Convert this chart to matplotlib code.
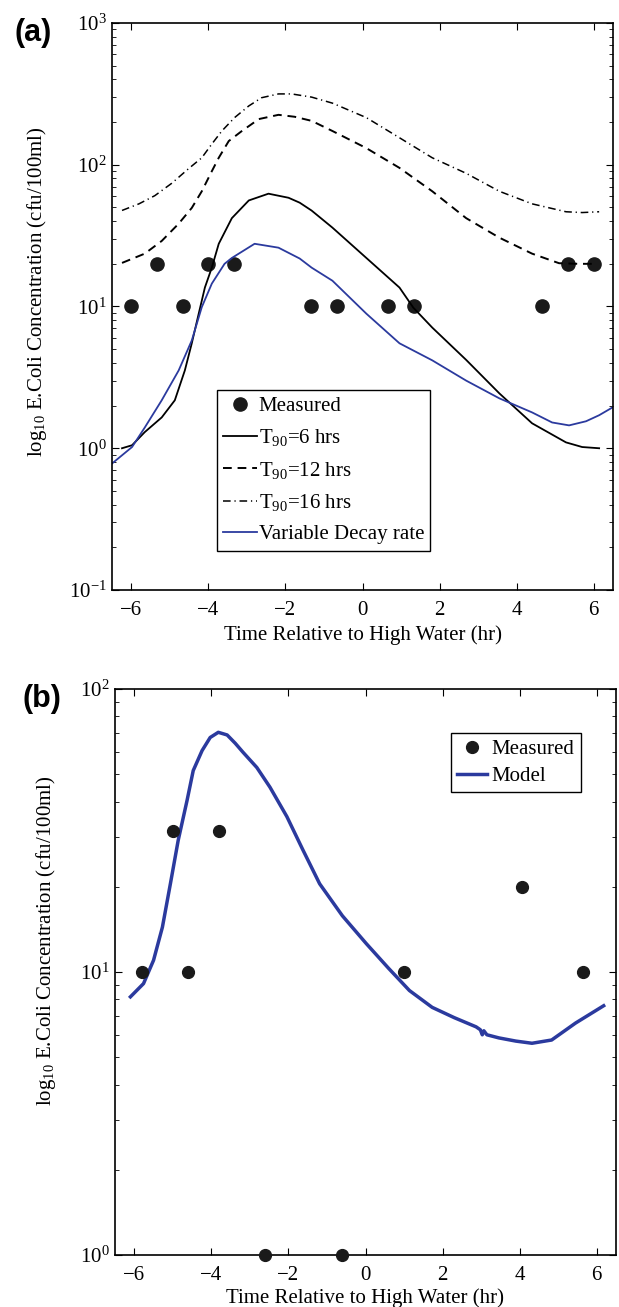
import numpy as np
import matplotlib
matplotlib.use("Agg")
from matplotlib import pyplot as plt

plt.rcParams['font.family'] = ['Liberation Serif', 'DejaVu Serif']
plt.rcParams['mathtext.fontset'] = 'custom'
plt.rcParams['mathtext.rm'] = 'Liberation Serif'
plt.rcParams['mathtext.it'] = 'Liberation Serif:italic'
plt.rcParams['axes.unicode_minus'] = True

# panel (a) data
meas_a_x = [-6.0, -5.33, -4.67, -4.0, -3.33, -1.33, -0.67, 0.67, 1.33, 4.67, 5.33, 6.0]
meas_a_y = [10, 20, 10, 20, 20, 10, 10, 10, 10, 10, 20, 20]

t6_x = [-6.24, -5.98, -5.65, -5.21, -4.87, -4.61, -4.43, -4.25, -4.09, -3.91, -3.73, -3.39,
        -2.95, -2.44, -1.92, -1.63, -1.32, -0.78, 0.1, 0.96, 1.32, 1.81, 2.69, 3.55,
        4.4, 5.28, 5.7, 6.14]
t6_y = [1.0, 1.05, 1.3, 1.65, 2.18, 3.54, 5.5, 8.9, 13.6, 18.8, 27.7, 42,
        56, 62.5, 58.5, 54, 47.5, 36, 22, 13.6, 9.8, 7.1, 4.2, 2.44,
        1.5, 1.1, 1.02, 1.0]

t12_x = [-6.24, -5.65, -5.21, -4.77, -4.43, -4.17, -3.91, -3.73, -3.47, -3.13, -2.69, -2.18,
         -1.76, -1.32, -0.78, 0.1, 0.96, 1.81, 2.69, 3.55, 4.4, 5.1, 5.6, 6.0]
t12_y = [20.3, 23.6, 29, 38.4, 49.6, 65, 90, 112, 147, 173, 210, 225,
         218, 204, 173, 131, 95, 65, 42, 30.6, 23.6, 20.2, 20, 20]

t16_x = [-6.24, -5.8, -5.39, -4.95, -4.51, -4.17, -3.91, -3.65, -3.32, -2.95, -2.62, -2.18,
         -1.84, -1.32, -0.78, 0.1, 0.96, 1.81, 2.69, 3.55, 4.4, 5.28, 5.7, 6.14]
t16_y = [47.6, 53, 60.5, 74, 94, 112, 140, 173, 215, 260, 297, 316,
         316, 300, 272, 215, 155, 112, 87, 65, 53, 46.6, 46, 46.6]

var_x = [-6.5, -5.98, -5.65, -5.21, -4.77, -4.43, -4.17, -3.91, -3.58, -3.39, -2.8, -2.18,
         -1.63, -1.32, -0.78, 0.1, 0.96, 1.81, 2.69, 3.55, 4.4, 4.92, 5.36, 5.8, 6.14, 6.5]
var_y = [0.78, 1.02, 1.4, 2.18, 3.54, 5.76, 9.9, 14.5, 20, 22, 27.7, 26,
         21.8, 18.8, 15.2, 8.9, 5.5, 4.17, 3.0, 2.25, 1.79, 1.52, 1.45, 1.55, 1.71, 1.95]

# panel (b) data
meas_b_x = [-5.8, -5.0, -4.6, -3.8, -2.6, -0.6, 1.0, 4.05, 5.65]
meas_b_y = [10, 31.6, 10, 31.6, 1, 1, 10, 20, 10]

model_x = [-6.1, -5.76, -5.5, -5.27, -5.06, -4.86, -4.63, -4.47, -4.24, -4.03, -3.82, -3.59,
           -3.38, -3.18, -2.82, -2.48, -2.04, -1.63, -1.19, -0.6, 0.02, 0.6, 1.14, 1.73,
           2.3, 2.87, 2.98, 3.03, 3.07, 3.15, 3.46, 3.9, 4.32, 4.83, 5.45, 6.18]
model_y = [8.17, 9.1, 11.0, 14.4, 20.6, 29.2, 40.4, 51.5, 60.6, 67.4, 70.3, 68.8,
           64.3, 59.8, 52.8, 45, 35.4, 27.1, 20.5, 15.8, 12.6, 10.3, 8.6, 7.5,
           6.9, 6.4, 6.25, 6.0, 6.2, 6.0, 5.85, 5.7, 5.6, 5.75, 6.6, 7.6]

blue = '#2b3a9e'
fs = 15
ylab = 'log$_{10}$ E.Coli Concentration (cfu/100ml)'

fig = plt.figure(figsize=(6.19, 13.07), dpi=100)
axa = fig.add_axes([112/619, 1 - 590/1307, 501/619, 567/1307])
axb = fig.add_axes([115/619, 1 - 1255/1307, 501/619, 566/1307])

def style(ax, ylx, yly, xly):
    ax.set_yscale('log')
    ax.set_xlim(-6.5, 6.5)
    ax.set_xticks([-6, -4, -2, 0, 2, 4, 6])
    ax.tick_params(which='both', direction='in', top=True, right=True, labelsize=fs)
    ax.tick_params(which='major', length=5, width=0.8)
    ax.tick_params(axis='x', which='major', pad=8)
    ax.tick_params(axis='y', which='major', pad=4)
    ax.tick_params(which='minor', length=3, width=0.6)
    ax.minorticks_on()
    ax.xaxis.set_minor_locator(matplotlib.ticker.NullLocator())
    for s in ax.spines.values():
        s.set_linewidth(1.2)
    ax.set_xlabel('Time Relative to High Water (hr)', fontsize=fs, va='center')
    ax.set_ylabel(ylab, fontsize=fs, va='center')
    ax.yaxis.set_label_coords(ylx, yly)
    ax.xaxis.set_label_coords(0.5, xly)

# (a)
axa.plot(meas_a_x, meas_a_y, 'o', color='#1a1a1a', ms=9.5, label='Measured')
axa.plot(t6_x, t6_y, '-', color='k', lw=1.3, label='T$_{90}$=6 hrs')
axa.plot(t12_x, t12_y, '--', color='k', lw=1.4, dashes=(4.5, 3.0), label='T$_{90}$=12 hrs')
axa.plot(t16_x, t16_y, '-.', color='k', lw=1.1, dashes=(5.0, 2.5, 0.8, 2.5), label='T$_{90}$=16 hrs')
axa.plot(var_x, var_y, '-', color=blue, lw=1.3, label='Variable Decay rate')
style(axa, -0.1497, 0.526, -0.0794)
axa.set_ylim(0.1, 1000)
lg = axa.legend(loc='upper left', bbox_to_anchor=(0.2096, 0.3527), borderaxespad=0,
                fontsize=fs, fancybox=False, edgecolor='k', framealpha=1,
                handlelength=1.6, handletextpad=0.1, labelspacing=0.55, borderpad=0.3)
lg.get_frame().set_linewidth(1.0)

# (b)
axb.plot(meas_b_x, meas_b_y, 'o', color='#1a1a1a', ms=8.5, clip_on=False, zorder=3, label='Measured')
axb.plot(model_x, model_y, '-', color=blue, lw=2.5, label='Model')
style(axb, -0.1377, 0.555, -0.076)
axb.set_ylim(1, 100)
lg = axb.legend(loc='upper left', bbox_to_anchor=(0.6707, 0.922), borderaxespad=0,
                fontsize=fs, fancybox=False, edgecolor='k', framealpha=1,
                handlelength=1.45, handletextpad=0.2, labelspacing=0.35, borderpad=0.3)
lg.get_frame().set_linewidth(1.0)

fig.text(33/619, 1 - 33/1307, '(a)', family='Liberation Sans', weight='bold', fontsize=22,
         ha='center', va='center')
fig.text(42/619, 1 - 699/1307, '(b)', family='Liberation Sans', weight='bold', fontsize=22,
         ha='center', va='center')

fig.savefig('out.png', dpi=100)
